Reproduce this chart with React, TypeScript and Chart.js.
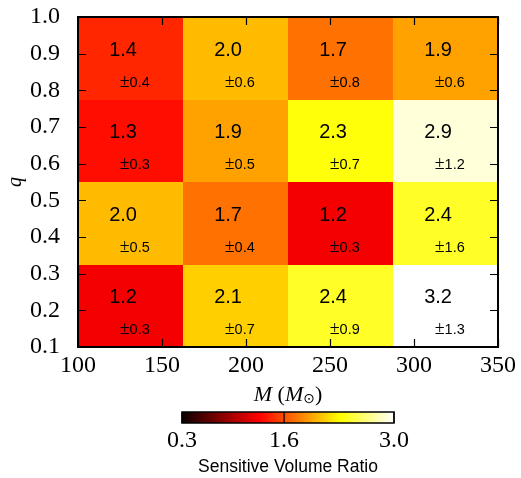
import { useEffect, useRef } from 'react';
import { Chart, registerables } from 'chart.js';

Chart.register(...registerables);

// Bin edges
const massEdges = [100, 162.5, 225, 287.5, 350];
const qEdges = [0.1, 0.325, 0.55, 0.775, 1.0];

// Sensitive volume ratio per cell (rows bottom→top, columns left→right)
const ratioRow1 = [1.24, 2.12, 2.42, 3.2];
const ratioRow2 = [2.04, 1.74, 1.24, 2.42];
const ratioRow3 = [1.34, 1.94, 2.34, 2.9];
const ratioRow4 = [1.44, 2.04, 1.74, 1.94];
const ratios = [ratioRow1, ratioRow2, ratioRow3, ratioRow4];

// Uncertainties
const errRow1 = [0.3, 0.7, 0.9, 1.3];
const errRow2 = [0.5, 0.4, 0.3, 1.6];
const errRow3 = [0.3, 0.5, 0.7, 1.2];
const errRow4 = [0.4, 0.6, 0.8, 0.6];
const errors = [errRow1, errRow2, errRow3, errRow4];

// Colour scale
const cMin = 0.3;
const cMax = 3.0;
const cbarTicks = [0.3, 1.6, 3.0];
const cbarLabel = 'Sensitive Volume Ratio';

const SERIF = '"Liberation Serif", "Times New Roman", serif';
const SANS = '"Liberation Sans", Arial, sans-serif';

function hot(t: number): string {
  t = Math.max(0, Math.min(1, t));
  const a = 0.365079;
  const b = 0.746032;
  const r = t < a ? 0.0416 + (t / a) * (1 - 0.0416) : 1;
  const g = t < a ? 0 : t < b ? (t - a) / (b - a) : 1;
  const bl = t < b ? 0 : (t - b) / (1 - b);
  return `rgb(${Math.round(r * 255)},${Math.round(g * 255)},${Math.round(bl * 255)})`;
}
const norm = (v: number) => (v - cMin) / (cMax - cMin);

const heatPlugin = {
  id: 'heat',
  beforeDatasetsDraw(chart: any) {
    const { ctx, scales } = chart;
    const x = scales.x;
    const y = scales.y;
    ctx.save();
    for (let r = 0; r < ratios.length; r++) {
      for (let c = 0; c < ratios[r].length; c++) {
        const x0 = Math.round(x.getPixelForValue(massEdges[c]));
        const x1 = Math.round(x.getPixelForValue(massEdges[c + 1]));
        const y0 = Math.round(y.getPixelForValue(qEdges[r]));
        const y1 = Math.round(y.getPixelForValue(qEdges[r + 1]));
        ctx.fillStyle = hot(norm(ratios[r][c]));
        ctx.fillRect(x0, y1, x1 - x0, y0 - y1);
      }
    }
    ctx.restore();
  },
  afterDatasetsDraw(chart: any) {
    const { ctx, scales } = chart;
    const x = scales.x;
    const y = scales.y;
    ctx.save();
    ctx.fillStyle = '#000';
    ctx.textBaseline = 'middle';
    for (let r = 0; r < ratios.length; r++) {
      for (let c = 0; c < ratios[r].length; c++) {
        const x0 = x.getPixelForValue(massEdges[c]);
        const x1 = x.getPixelForValue(massEdges[c + 1]);
        const y0 = y.getPixelForValue(qEdges[r]);
        const y1 = y.getPixelForValue(qEdges[r + 1]);
        const cx = (x0 + x1) / 2;
        const cy = (y0 + y1) / 2;
        const w = x1 - x0;
        const h = y0 - y1;
        ctx.font = `20px ${SANS}`;
        ctx.textAlign = 'center';
        ctx.fillText(ratios[r][c].toFixed(1), cx - 0.071 * w, cy - 0.1 * h);
        // ± label
        const pmFont = `18px ${SERIF}`;
        const numFont = `14.5px ${SANS}`;
        const num = errors[r][c].toFixed(1);
        ctx.font = pmFont;
        const pmW = ctx.measureText('±').width;
        ctx.font = numFont;
        const nW = ctx.measureText(num).width;
        const total = pmW + nW;
        const sx = cx + 0.04 * w - total / 2;
        const ly = cy + 0.29 * h;
        ctx.textAlign = 'left';
        ctx.font = pmFont;
        ctx.fillText('±', sx, ly);
        ctx.font = numFont;
        ctx.fillText(num, sx + pmW, ly + 0.5);
      }
    }
    ctx.restore();
  },
  afterDraw(chart: any) {
    const { ctx, scales, chartArea } = chart;
    const x = scales.x;
    const y = scales.y;
    const { left, right, top, bottom } = chartArea;
    ctx.save();
    // inward ticks
    ctx.strokeStyle = '#000';
    ctx.lineWidth = 1.2;
    const tl = 8;
    ctx.beginPath();
    x.ticks.forEach((t: any) => {
      const px = Math.round(x.getPixelForValue(t.value)) + 0.5;
      ctx.moveTo(px, bottom);
      ctx.lineTo(px, bottom - tl);
      ctx.moveTo(px, top);
      ctx.lineTo(px, top + tl);
    });
    y.ticks.forEach((t: any) => {
      const py = Math.round(y.getPixelForValue(t.value)) + 0.5;
      ctx.moveTo(left, py);
      ctx.lineTo(left + tl, py);
      ctx.moveTo(right, py);
      ctx.lineTo(right - tl, py);
    });
    ctx.stroke();
    // frame
    ctx.lineWidth = 2;
    ctx.strokeRect(left, top, right - left, bottom - top);

    // y-axis label
    ctx.fillStyle = '#000';
    ctx.save();
    ctx.translate(16, (top + bottom) / 2);
    ctx.rotate(-Math.PI / 2);
    ctx.font = `italic 20px ${SERIF}`;
    ctx.textAlign = 'center';
    ctx.textBaseline = 'middle';
    ctx.fillText('q', 0, 0);
    ctx.restore();

    // x-axis label: M (M⊙)
    const titleY = 395;
    const parts: [string, string, number][] = [
      ['M', `italic 22px ${SERIF}`, 0],
      [' (', `22px ${SERIF}`, 0],
      ['M', `italic 22px ${SERIF}`, 0],
      ['⊙', `14px "DejaVu Sans", ${SERIF}`, 4],
      [')', `22px ${SERIF}`, 0],
    ];
    let totalW = 0;
    const widths = parts.map(([s, f]) => {
      ctx.font = f;
      const w = ctx.measureText(s).width;
      totalW += w;
      return w;
    });
    let tx = (left + right) / 2 - totalW / 2;
    ctx.textAlign = 'left';
    ctx.textBaseline = 'middle';
    parts.forEach(([s, f, dy], i) => {
      ctx.font = f;
      ctx.fillText(s, tx, titleY + dy);
      tx += widths[i];
    });

    // colour bar
    const cbW = 212;
    const cbL = Math.round((left + right) / 2 - cbW / 2);
    const cbT = 412;
    const cbH = 11;
    for (let i = 0; i < cbW; i++) {
      ctx.fillStyle = hot((i + 0.5) / cbW);
      ctx.fillRect(cbL + i, cbT, 1, cbH);
    }
    ctx.strokeStyle = '#000';
    ctx.lineWidth = 1.5;
    ctx.strokeRect(cbL, cbT, cbW, cbH);
    ctx.lineWidth = 1.2;
    ctx.fillStyle = '#000';
    ctx.font = `24px ${SERIF}`;
    ctx.textAlign = 'center';
    ctx.textBaseline = 'middle';
    cbarTicks.forEach((v) => {
      const px = cbL + norm(v) * cbW;
      ctx.beginPath();
      ctx.moveTo(px, cbT);
      ctx.lineTo(px, cbT + cbH);
      ctx.stroke();
      ctx.fillText(v.toFixed(1), px, 441);
    });
    ctx.font = `17.5px ${SANS}`;
    ctx.fillText(cbarLabel, (left + right) / 2, 467);
    ctx.restore();
  },
};

export default function App() {
  const ref = useRef<HTMLCanvasElement>(null);
  useEffect(() => {
    const chart = new Chart(ref.current as HTMLCanvasElement, {
      type: 'scatter',
      data: { datasets: [{ data: [] }] },
      options: {
        animation: false,
        responsive: false,
        events: [],
        layout: { padding: { top: 17, right: 23, left: 0, bottom: 0 } },
        plugins: { legend: { display: false }, tooltip: { enabled: false } },
        scales: {
          x: {
            type: 'linear',
            min: 100,
            max: 350,
            grid: { display: false },
            border: { display: false },
            ticks: {
              stepSize: 50,
              color: '#000',
              padding: -4,
              maxRotation: 0,
              font: { family: SERIF, size: 24 },
            },
            afterFit: (s: any) => {
              s.height = 131;
              s.paddingLeft = 0;
              s.paddingRight = 0;
            },
          },
          y: {
            type: 'linear',
            min: 0.1,
            max: 1.0,
            grid: { display: false },
            border: { display: false },
            ticks: {
              stepSize: 0.1,
              color: '#000',
              padding: 10,
              font: { family: SERIF, size: 24 },
              callback: (v: any) => Number(v).toFixed(1),
            },
            afterFit: (s: any) => {
              s.width = 78;
              s.paddingTop = 0;
              s.paddingBottom = 0;
            },
          },
        },
      } as any,
      plugins: [heatPlugin],
    });
    return () => chart.destroy();
  }, []);
  return (
    <div style={{ position: 'absolute', left: 0, top: 0, width: 521, height: 478 }}>
      <canvas ref={ref} width={521} height={478} style={{ display: 'block' }} />
    </div>
  );
}
